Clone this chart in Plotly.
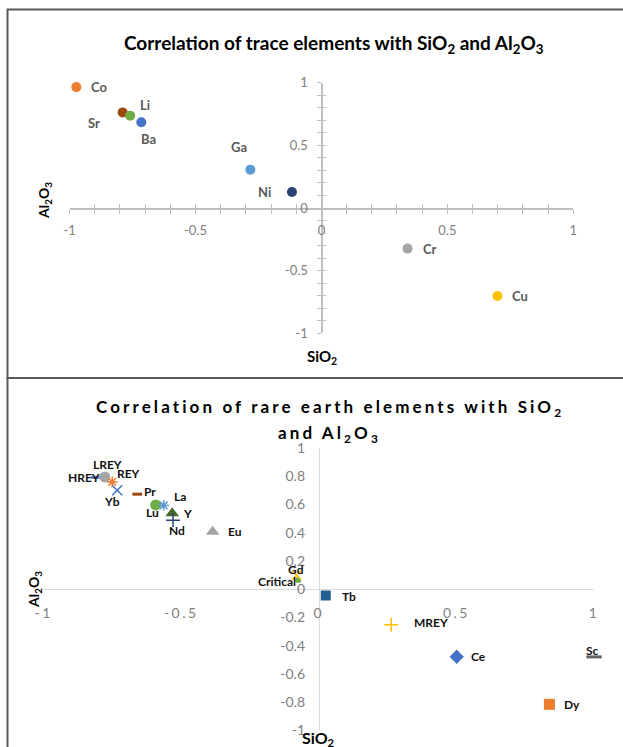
import plotly.graph_objects as go

# ---------------- data ----------------
trace_names = ["Co", "Sr", "Li", "Ba", "Ga", "Ni", "Cr", "Cu"]
trace_sio2 = [-0.973, -0.789, -0.759, -0.715, -0.282, -0.117, 0.342, 0.699]
trace_al2o3 = [0.965, 0.763, 0.737, 0.684, 0.306, 0.128, -0.324, -0.702]

ree_names = ["HREY", "LREY", "REY", "Yb", "Pr", "Lu", "La", "Y", "Nd", "Eu",
             "Critical", "Gd", "Tb", "MREY", "Ce", "Sc", "Dy"]
ree_sio2 = [-0.811, -0.778, -0.751, -0.733, -0.660, -0.593, -0.564, -0.533, -0.530,
            -0.386, -0.075, -0.081, 0.025, 0.263, 0.501, 1.0, 0.838]
ree_al2o3 = [0.791, 0.795, 0.760, 0.701, 0.673, 0.597, 0.593, 0.537, 0.489,
             0.406, 0.064, 0.099, -0.045, -0.253, -0.479, -0.480, -0.816]

top_tick_vals = [-1, -0.5, 0, 0.5, 1]
top_tick_text = ["-1", "-0.5", "0", "0.5", "1"]
bot_x_tick_vals = [-1, -0.5, 0, 0.5, 1]
bot_x_tick_text = ["-1", "-0.5", "0", "0.5", "1"]
bot_y_tick_vals = [-1, -0.8, -0.6, -0.4, -0.2, 0, 0.2, 0.4, 0.6, 0.8, 1]
bot_y_tick_text = ["-1", "-0.8", "-0.6", "-0.4", "-0.2", "0", "0.2", "0.4", "0.6", "0.8", "1"]

# ---------------- styles ----------------
trace_colors = ["#ED7D31", "#9E480E", "#70AD47", "#4472C4", "#5B9BD5", "#264478", "#A5A5A5", "#FFC000"]
# label offsets in pixels (dx right, dy down)
trace_lbl_off = [(23, 0), (-29, 11), (15, -11), (7, 17), (-11, -23), (-27, 0), (22, 0), (23, 0)]

ree_style = [
    dict(symbol="line-ew-open", size=7, color="#4472C4", lw=2.5),   # HREY
    dict(symbol="circle", size=11, color="#A5A5A5", lw=0),           # LREY
    dict(symbol="asterisk-open", size=9, color="#ED7D31", lw=1.5),  # REY
    dict(symbol="x-thin-open", size=10, color="#4472C4", lw=1.5),   # Yb
    dict(symbol="line-ew-open", size=7, color="#9E480E", lw=3),     # Pr
    dict(symbol="circle", size=11, color="#70AD47", lw=0),           # Lu
    dict(symbol="asterisk-open", size=9, color="#5B9BD5", lw=1.5),  # La
    dict(symbol="triangle-up", size=12, color="#43682B", lw=0),      # Y
    dict(symbol="cross-thin-open", size=10, color="#264478", lw=1.5),  # Nd
    dict(symbol="triangle-up", size=12, color="#A5A5A5", lw=0),      # Eu
    dict(symbol="circle", size=6, color="#70AD47", lw=0),            # Critical
    dict(symbol="x-thin-open", size=9, color="#FFC000", lw=1.5),    # Gd
    dict(symbol="square", size=10, color="#255E91", lw=0),           # Tb
    dict(symbol="cross-thin-open", size=10, color="#FFC000", lw=1.5),  # MREY
    dict(symbol="diamond", size=11, color="#4472C4", lw=0),          # Ce
    dict(symbol="line-ew-open", size=11, color="#636363", lw=3),     # Sc
    dict(symbol="square", size=11, color="#ED7D31", lw=0),           # Dy
]
ree_lbl_off = [(-12, 0), (3, -12), (16, -8), (-5, 11), (13, -3), (-3, 8), (16, -9), (15, 0),
               (4, 10), (22, 0), (-21, 1), (-1, -6), (23, 1), (40, -2), (22, 0), (-2, -6), (23, 0)]

W, H = 623, 747
def px(x): return x / W
def py(y): return 1 - y / H

TOP_X = [px(69.5), px(573.3)]
TOP_Y = [py(333.3), py(82.7)]
BOT_X = [px(43.7), px(594.0)]
BOT_Y = [py(730.3), py(448.0)]

fig = go.Figure()

label_font = "Lato"
# ---- top chart ----
for i, n in enumerate(trace_names):
    fig.add_trace(go.Scatter(
        x=[trace_sio2[i]], y=[trace_al2o3[i]], mode="markers", name=n,
        marker=dict(symbol="circle", size=10, color=trace_colors[i]),
        xaxis="x", yaxis="y", showlegend=False, cliponaxis=False))
# invisible trace to activate overlay axes carrying the inner half of the cross ticks
fig.add_trace(go.Scatter(x=trace_sio2, y=trace_al2o3, mode="markers",
                         marker=dict(opacity=0), xaxis="x3", yaxis="y3",
                         showlegend=False, hoverinfo="skip"))

# ---- bottom chart ----
for i, n in enumerate(ree_names):
    s = ree_style[i]
    fig.add_trace(go.Scatter(
        x=[ree_sio2[i]], y=[ree_al2o3[i]], mode="markers", name=n,
        marker=dict(symbol=s["symbol"], size=s["size"], color=s["color"],
                    line=dict(color=s["color"], width=s["lw"])),
        xaxis="x2", yaxis="y2", showlegend=False, cliponaxis=False))

annotations = []
for i, n in enumerate(trace_names):
    dx, dy = trace_lbl_off[i]
    annotations.append(dict(x=trace_sio2[i], y=trace_al2o3[i], xref="x", yref="y",
                            text=n, showarrow=False, xshift=dx, yshift=-dy,
                            xanchor="center", yanchor="middle",
                            font=dict(family=label_font, size=13, color="#595959", weight="bold")))
for i, n in enumerate(ree_names):
    dx, dy = ree_lbl_off[i]
    annotations.append(dict(x=ree_sio2[i], y=ree_al2o3[i], xref="x2", yref="y2",
                            text=n, showarrow=False, xshift=dx, yshift=-dy,
                            xanchor="center", yanchor="middle",
                            font=dict(family=label_font, size=12, color="#111111", weight="bold")))

def paper_text(x, y, text, size, angle=0):
    return dict(x=px(x), y=py(y), xref="paper", yref="paper", text=text, showarrow=False,
                xanchor="center", yanchor="middle", textangle=angle,
                font=dict(family=label_font, size=size, color="#000000", weight="bold"))

# titles
annotations.append(paper_text(333.5, 43.5,
                              "Correlation of trace elements with SiO<sub>2</sub> and Al<sub>2</sub>O<sub>3</sub>", 19))
annotations.append(paper_text(330, 408,
                              '<span style="letter-spacing:3.1px">Correlation of rare earth elements with SiO<sub>2</sub></span>', 17))
annotations.append(paper_text(329, 434,
                              '<span style="letter-spacing:3.1px">and Al<sub>2</sub>O<sub>3</sub></span>', 17))
# axis titles
annotations.append(paper_text(322, 357, "SiO<sub>2</sub>", 15))
annotations.append(paper_text(44.5, 200.5, "Al<sub>2</sub>O<sub>3</sub>", 14, -90))
annotations.append(paper_text(318, 738, "SiO<sub>2</sub>", 16))
annotations.append(paper_text(34, 590, "Al<sub>2</sub>O<sub>3</sub>", 14, -90))

top_axis_col = "#BFBFBF"
tick_font_top = dict(family=label_font, size=13, color="#7F7F7F")
tick_font_bot = dict(family=label_font, size=14, color="#7F7F7F")

common = dict(showgrid=False, zeroline=False, automargin=False, fixedrange=True)

fig.update_layout(
    template="none",
    width=W, height=H, margin=dict(l=0, r=0, t=0, b=0, autoexpand=False),
    paper_bgcolor="white", plot_bgcolor="rgba(0,0,0,0)",
    showlegend=False,
    annotations=annotations,
    xaxis=dict(domain=TOP_X, range=[-1, 1], anchor="free", position=(TOP_Y[0] + TOP_Y[1]) / 2,
               showline=True, linecolor=top_axis_col, linewidth=1.5,
               tickmode="array", tickvals=top_tick_vals, ticktext=top_tick_text,
               ticks="outside", ticklen=4, tickcolor=top_axis_col, tickwidth=1,
               minor=dict(dtick=0.1, tick0=0, ticks="outside", ticklen=4, tickcolor=top_axis_col, tickwidth=1, showgrid=False),
               tickfont=tick_font_top, ticklabelstandoff=6, **common),
    yaxis=dict(domain=TOP_Y, range=[-1, 1], anchor="free", position=(TOP_X[0] + TOP_X[1]) / 2,
               showline=True, linecolor=top_axis_col, linewidth=1.5,
               tickmode="array", tickvals=top_tick_vals, ticktext=top_tick_text,
               ticks="outside", ticklen=4, tickcolor=top_axis_col, tickwidth=1,
               minor=dict(dtick=0.1, tick0=0, ticks="outside", ticklen=4, tickcolor=top_axis_col, tickwidth=1, showgrid=False),
               tickfont=tick_font_top, ticklabelstandoff=7, **common),
    xaxis3=dict(overlaying="x", range=[-1, 1], anchor="free", position=(TOP_Y[0] + TOP_Y[1]) / 2,
                showline=False, showticklabels=False,
                tickmode="array", tickvals=top_tick_vals,
                ticks="inside", ticklen=4, tickcolor=top_axis_col, tickwidth=1,
                minor=dict(dtick=0.1, tick0=0, ticks="inside", ticklen=4, tickcolor=top_axis_col, tickwidth=1, showgrid=False),
                **common),
    yaxis3=dict(overlaying="y", range=[-1, 1], anchor="free", position=(TOP_X[0] + TOP_X[1]) / 2,
                showline=False, showticklabels=False,
                tickmode="array", tickvals=top_tick_vals,
                ticks="inside", ticklen=4, tickcolor=top_axis_col, tickwidth=1,
                minor=dict(dtick=0.1, tick0=0, ticks="inside", ticklen=4, tickcolor=top_axis_col, tickwidth=1, showgrid=False),
                **common),
    xaxis2=dict(domain=BOT_X, range=[-1, 1], anchor="free", position=(BOT_Y[0] + BOT_Y[1]) / 2,
                showline=True, linecolor="#D9D9D9", linewidth=1,
                tickmode="array", tickvals=bot_x_tick_vals,
                ticktext=['<span style="letter-spacing:2.5px">%s</span>' % t for t in bot_x_tick_text],
                ticks="", tickfont=tick_font_bot, ticklabelstandoff=11, **common),
    yaxis2=dict(domain=BOT_Y, range=[-1, 1], anchor="free", position=(BOT_X[0] + BOT_X[1]) / 2,
                showline=True, linecolor="#D9D9D9", linewidth=1,
                tickmode="array", tickvals=bot_y_tick_vals, ticktext=bot_y_tick_text,
                ticks="", tickfont=tick_font_bot, ticklabelstandoff=11, **common),
    shapes=[
        dict(type="rect", xref="paper", yref="paper", x0=px(7.5), x1=px(640), y0=py(378), y1=py(9.5),
             line=dict(color="#595959", width=2), layer="below"),
        dict(type="rect", xref="paper", yref="paper", x0=px(7.5), x1=px(640), y0=py(760), y1=py(378),
             line=dict(color="#595959", width=2), layer="below"),
    ],
)

fig.write_html("out.html", config={"displayModeBar": False, "staticPlot": True},
               post_script="document.body.style.margin='0';document.body.style.padding='0';")
